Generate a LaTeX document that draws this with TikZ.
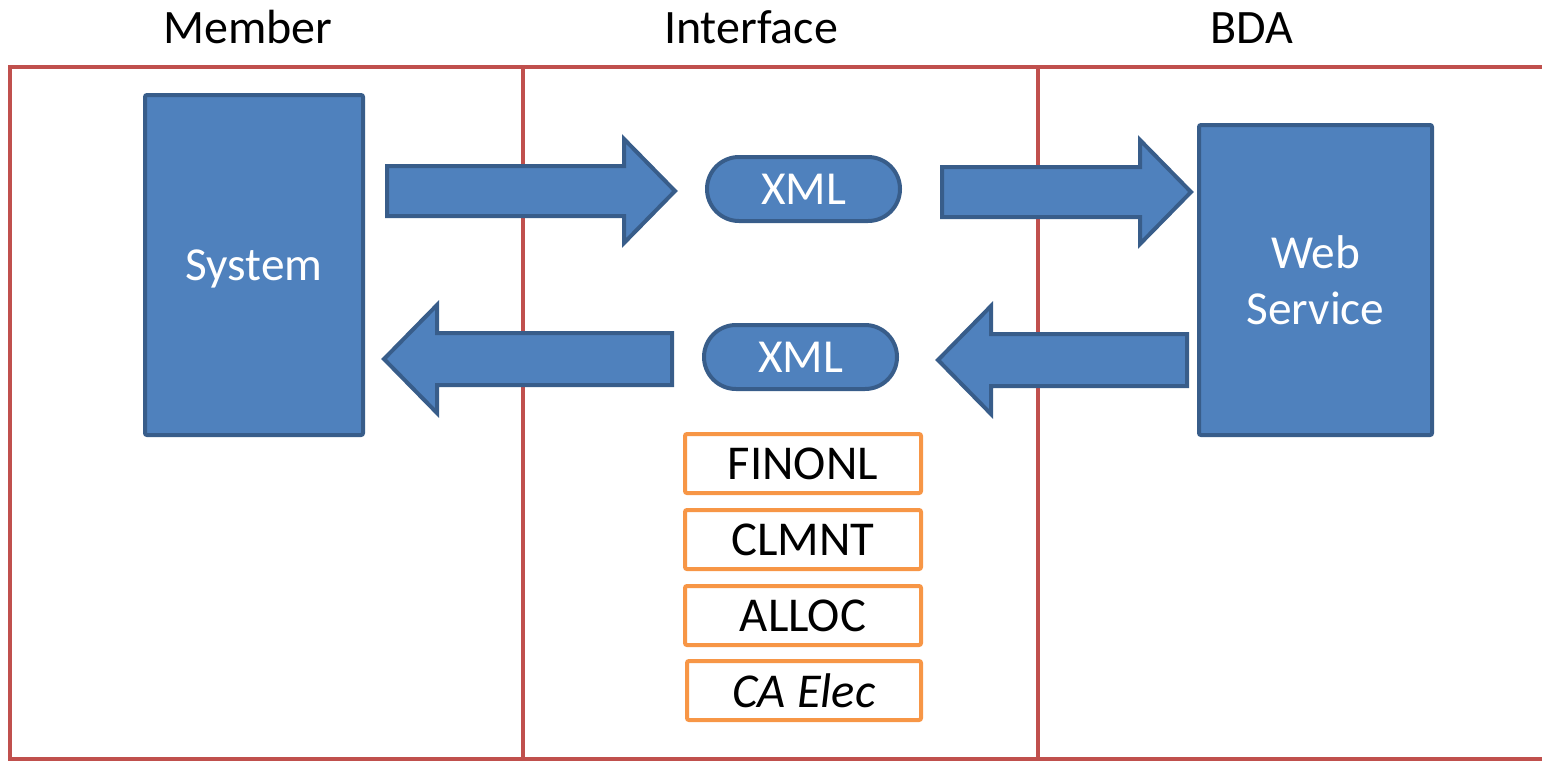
\documentclass[tikz,border=0pt]{standalone}
\usepackage{fontspec}
\setmainfont{Carlito}
\usepackage{tikz}
\usepackage{xcolor}

\definecolor{boxblue}{RGB}{79,129,189}
\definecolor{edgeblue}{RGB}{56,93,138}
\definecolor{lanered}{RGB}{192,80,77}
\definecolor{tagorange}{RGB}{247,150,70}

\tikzset{
  lane/.style={draw=lanered, line width=3pt},
  sysbox/.style={draw=edgeblue, fill=boxblue, line width=3pt, rounded corners=1.5pt, text=white,
    font=\fontsize{35.5}{42}\selectfont, inner sep=0pt, align=center},
  xmlpill/.style={sysbox, minimum width=144.75pt, minimum height=48pt, rounded corners=24pt},
  tagbox/.style={draw=tagorange, fill=white, line width=3pt, rounded corners=1.5pt, inner sep=0pt,
    minimum width=177pt, minimum height=44.25pt, text depth=0pt, font=\fontsize{36.5}{42}\selectfont},
  blockarrow/.style={draw=edgeblue, fill=boxblue, line width=3pt, line join=miter},
  heading/.style={anchor=base, inner sep=0pt, font=\fontsize{36}{42}\selectfont}
}

\begin{document}
\begin{tikzpicture}[x=0.75pt,y=0.75pt,yscale=-1,xscale=1]
        \useasboundingbox (0,0) rectangle (1542,761);

        %Lanes
        \draw [lane] (1542,67) -- (10,67) -- (10,759) -- (1542,759) ;
        \draw [lane] (523,67) -- (523,759) ;
        \draw [lane] (1038,67) -- (1038,759) ;

        % Text Node
        \node (member) at (248,43) [heading] {Member};
        % Text Node
        \node (iface) at (751,43) [heading] {Interface};
        % Text Node
        \node (bda) at (1252,43) [heading] {BDA};

        %Shape: Right Arrow
        \draw [blockarrow] (387,166) -- (624,166) -- (624,139) -- (675,191) -- (624,243) -- (624,216) -- (387,216) -- cycle ;
        %Shape: Right Arrow
        \draw [blockarrow] (942,167) -- (1140,167) -- (1140,140) -- (1191,192) -- (1140,244) -- (1140,217) -- (942,217) -- cycle ;
        %Shape: Left Arrow
        \draw [blockarrow] (672,333) -- (437,333) -- (437,305) -- (384,359) -- (437,413) -- (437,385) -- (672,385) -- cycle ;
        %Shape: Left Arrow
        \draw [blockarrow] (1187,334) -- (991,334) -- (991,306) -- (938,360) -- (991,414) -- (991,386) -- (1187,386) -- cycle ;

        %Shape: Rectangle
        \node (system) at (254,265) [sysbox, text depth=0pt, minimum width=163.5pt, minimum height=255pt] {System};
        %Shape: Rectangle
        \node (websvc) at (1315.5,280) [sysbox, minimum width=174.75pt, minimum height=232.5pt] {Web\\Service};

        %Shape: Rounded Rect
        \node (xmlout) at (803.5,189) [xmlpill] {XML};
        %Shape: Rounded Rect
        \node (xmlin) at (800.5,357) [xmlpill] {XML};

        %Shape: Rectangle
        \node (finonl) at (803,463.5) [tagbox] {FINONL};
        %Shape: Rectangle
        \node (clmnt) at (803,539.5) [tagbox] {CLMNT};
        %Shape: Rectangle
        \node (alloc) at (803,615.5) [tagbox] {ALLOC};
        %Shape: Rectangle
        \node (caelec) at (804,690.5) [tagbox, minimum width=175.5pt] {\itshape CA Elec};

\end{tikzpicture}
\end{document}
